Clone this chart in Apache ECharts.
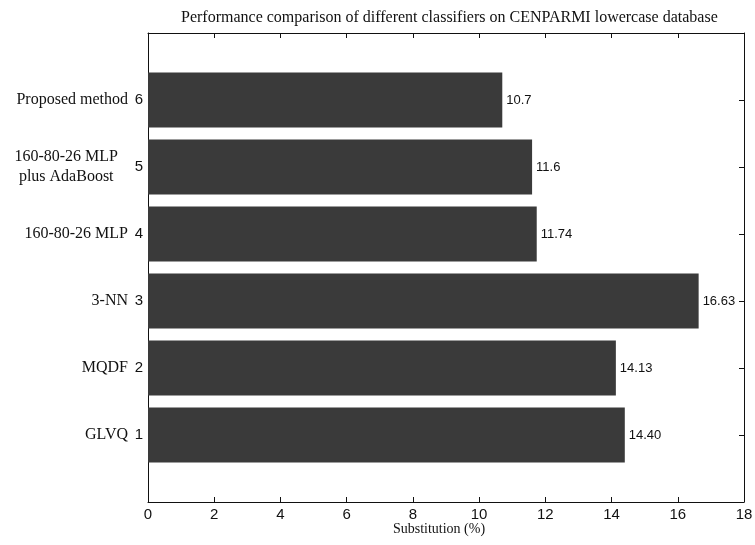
<!DOCTYPE html>
<html>
<head>
<meta charset="utf-8">
<script src="https://cdn.jsdelivr.net/npm/echarts@6/dist/echarts.min.js"></script>
<style>
  html, body { margin: 0; padding: 0; background: #fff; }
  #main { width: 755px; height: 545px; }
</style>
</head>
<body>
<div id="main"></div>
<script>
var rowNumbers = ['1', '2', '3', '4', '5', '6'];
var classifiers = ['GLVQ', 'MQDF', '3-NN', '160-80-26 MLP', '160-80-26 MLP\nplus AdaBoost', 'Proposed method'];
var substitution = [14.40, 14.13, 16.63, 11.74, 11.6, 10.7];
var valueLabels = ['14.40', '14.13', '16.63', '11.74', '11.6', '10.7'];
var xTicks = [0, 2, 4, 6, 8, 10, 12, 14, 16, 18];

// pad with an empty slot at each end so the axis runs from 0 to 7
var yData = [''].concat(rowNumbers, ['']);
var nameData = [''].concat(classifiers, ['']);
var barData = ['-'].concat(substitution, ['-']);

var chartDom = document.getElementById('main');
var myChart = echarts.init(chartDom);
var option;

var serif = 'Liberation Serif';
var sans = 'Liberation Sans';
var inner = function (i) { return i >= 1 && i <= rowNumbers.length; };

option = {
  animation: false,
  backgroundColor: '#fff',
  title: {
    text: 'Performance comparison of different classifiers on CENPARMI lowercase database',
    left: 176,
    top: 5,
    textStyle: { fontFamily: serif, fontSize: 16, fontWeight: 'normal', color: '#111' }
  },
  grid: { left: 148, right: 11, top: 33, bottom: 43, outerBoundsMode: 'none' },
  xAxis: [
    {
      type: 'value',
      position: 'bottom',
      min: xTicks[0],
      max: xTicks[xTicks.length - 1],
      interval: 2,
      name: 'Substitution (%)',
      nameLocation: 'middle',
      nameGap: 20,
      nameMoveOverlap: false,
      nameTextStyle: { fontFamily: serif, fontSize: 14, color: '#111', padding: [0, 14, 0, 0] },
      axisLine: { show: true, lineStyle: { color: '#111', width: 1 } },
      axisTick: { show: true, inside: true, length: 5, lineStyle: { color: '#111' } },
      axisLabel: { margin: 5, fontFamily: sans, fontSize: 15, color: '#111' },
      splitLine: { show: false }
    },
    {
      type: 'value',
      position: 'top',
      min: xTicks[0],
      max: xTicks[xTicks.length - 1],
      interval: 2,
      axisLine: { show: true, lineStyle: { color: '#111', width: 1 } },
      axisTick: { show: true, inside: true, length: 5, lineStyle: { color: '#111' } },
      axisLabel: { show: false },
      splitLine: { show: false }
    }
  ],
  yAxis: [
    {
      type: 'category',
      position: 'left',
      data: yData,
      boundaryGap: false,
      axisLine: { show: true, lineStyle: { color: '#111', width: 1 } },
      axisTick: { show: false },
      axisLabel: {
        margin: 5,
        interval: function (i) { return inner(i); },
        fontFamily: sans,
        fontSize: 15,
        color: '#111'
      }
    },
    {
      type: 'category',
      position: 'left',
      data: nameData,
      boundaryGap: false,
      axisLine: { show: false },
      axisTick: { show: false },
      axisLabel: {
        margin: 20,
        interval: function (i) { return inner(i); },
        fontFamily: serif,
        fontSize: 16,
        color: '#111',
        lineHeight: 20,
        formatter: function (v) {
          if (v.indexOf('\n') >= 0) {
            return '{m|' + v + '}';
          }
          return v;
        },
        rich: {
          m: { align: 'center', fontFamily: serif, fontSize: 16, lineHeight: 20, color: '#111', padding: [0, 10, 0, 0] }
        }
      }
    },
    {
      type: 'category',
      position: 'right',
      data: yData,
      boundaryGap: false,
      axisLine: { show: true, lineStyle: { color: '#111', width: 1 } },
      axisTick: {
        show: true,
        inside: true,
        length: 5,
        interval: function (i) { return inner(i); },
        lineStyle: { color: '#111' }
      },
      axisLabel: { show: false }
    }
  ],
  series: [
    {
      type: 'bar',
      xAxisIndex: 0,
      yAxisIndex: 0,
      data: barData,
      barWidth: 55,
      itemStyle: { color: '#3a3a3a' },
      label: {
        show: true,
        position: 'right',
        distance: 4,
        fontFamily: sans,
        fontSize: 13,
        color: '#111',
        formatter: function (p) { return valueLabels[p.dataIndex - 1]; }
      }
    }
  ]
};

option && myChart.setOption(option);
</script>
</body>
</html>
